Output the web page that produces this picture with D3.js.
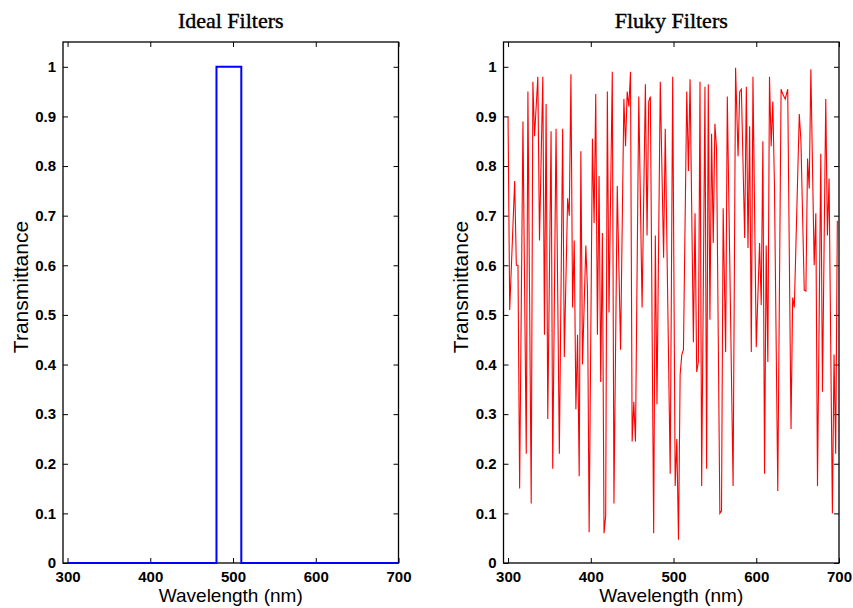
<!DOCTYPE html>
<html>
<head>
<meta charset="utf-8">
<script src="https://cdn.jsdelivr.net/npm/d3@7"></script>
<style>
    body { margin: 0; background: #fff; }
    svg { display: block; }
    .tick text { font-family: "Liberation Sans", Arial, sans-serif; font-size: 15px; font-weight: bold; fill: #000; }
    .tick line { stroke: #000; stroke-width: 1; }
    .axis-label { font-family: "Liberation Sans", Arial, sans-serif; fill: #000; }
    .title { font-family: "Liberation Serif", "Times New Roman", serif; font-size: 22px; fill: #000; stroke: #000; stroke-width: 0.4; }
</style>
</head>
<body>
<svg id="chart" width="853" height="608"></svg>
<script>
// tick values
const xTicks = [300, 400, 500, 600, 700];
const yTicks = [0, 0.1, 0.2, 0.3, 0.4, 0.5, 0.6, 0.7, 0.8, 0.9, 1];

// ideal band-pass filter (480-510 nm)
const idealWavelength = [300, 480, 480, 510, 510, 700];
const idealT = [0, 0, 1, 1, 0, 0];

// fluky filter
const flukyWavelength = [
    300, 302, 308, 310, 312, 314, 318, 322, 324, 328, 330, 332, 336, 338, 342, 344, 346, 348, 352, 354,
    358, 362, 366, 368, 372, 374, 376, 378, 380, 382, 384, 386, 388, 390, 394, 396, 398, 402, 404, 406,
    408, 410, 412, 414, 416, 418, 420, 422, 426, 428, 432, 436, 440, 442, 444, 446, 448, 450, 452, 454,
    458, 462, 466, 468, 470, 472, 476, 478, 480, 484, 488, 490, 496, 499, 502, 504, 506, 508, 510, 512,
    516, 518, 520, 524, 526, 528, 530, 532, 534, 538, 540, 542, 544, 546, 548, 550, 552, 556, 558, 560,
    563, 565, 572, 575, 578, 580, 582, 586, 588, 590, 592, 594, 596, 600, 604, 606, 608, 610, 612, 614,
    616, 618, 620, 622, 626, 630, 632, 635, 638, 642, 644, 646, 652, 654, 658, 660, 662, 664, 666, 670,
    672, 674, 678, 680, 684, 686, 688, 692, 694, 696, 698
];
const flukyT = [
    0.90, 0.51, 0.77, 0.60, 0.60, 0.15, 0.89, 0.22, 0.95, 0.12, 0.97, 0.86, 0.98, 0.65, 0.98, 0.46, 0.925, 0.29, 0.87, 0.19,
    0.875, 0.22, 0.875, 0.415, 0.735, 0.70, 0.985, 0.515, 0.65, 0.31, 0.46, 0.175, 0.83, 0.40, 0.64, 0.55, 0.062, 0.855, 0.685, 0.945,
    0.46, 0.78, 0.365, 0.665, 0.06, 0.095, 0.95, 0.505, 0.99, 0.12, 0.76, 0.43, 0.935, 0.84, 0.95, 0.92, 0.99, 0.245, 0.325, 0.245,
    0.94, 0.515, 0.965, 0.66, 0.93, 0.94, 0.06, 0.66, 0.32, 0.97, 0.615, 0.875, 0.18, 0.98, 0.155, 0.25, 0.047, 0.38, 0.42, 0.43,
    0.95, 0.79, 0.975, 0.445, 0.705, 0.385, 0.405, 0.97, 0.155, 0.96, 0.19, 0.965, 0.49, 0.865, 0.645, 0.885, 0.835, 0.10, 0.105, 0.715,
    0.425, 0.94, 0.155, 0.998, 0.82, 0.95, 0.955, 0.655, 0.96, 0.635, 0.88, 0.425, 0.98, 0.435, 0.645, 0.52, 0.85, 0.18, 0.64, 0.405,
    0.98, 0.84, 0.93, 0.76, 0.145, 0.955, 0.945, 0.935, 0.955, 0.27, 0.535, 0.515, 0.905, 0.85, 0.55, 0.548, 0.815, 0.755, 0.995, 0.60,
    0.705, 0.155, 0.825, 0.345, 0.935, 0.66, 0.775, 0.10, 0.42, 0.22, 0.69
];

class FilterPanel {
    constructor(svg, opts) {
        this.svg = svg;
        this.opts = opts;

        this.BOX = {top: 42, bottom: 563, left: opts.left, right: opts.right};

        this.xScale = d3.scaleLinear()
            .domain([294.5, 700])
            .range([this.BOX.left, this.BOX.right]);

        this.yScale = d3.scaleLinear()
            .domain([0, 1.05])
            .range([this.BOX.bottom, this.BOX.top]);

        this.g = svg.append('g');
        this.drawChart();
    }

    drawChart() {
        this.drawAxis();
        this.drawLine();
        this.drawLabels();
    }

    drawAxis() {
        let b = this.BOX;

        // box
        this.g.append('rect')
            .attr('x', b.left)
            .attr('y', b.top)
            .attr('width', b.right - b.left)
            .attr('height', b.bottom - b.top)
            .attr('fill', 'none')
            .attr('stroke', '#000')
            .attr('stroke-width', 1.3);

        // ticks point inward, on all four sides
        let xAxis = d3.axisBottom(this.xScale)
            .tickValues(xTicks)
            .tickSizeInner(-5)
            .tickSizeOuter(0)
            .tickPadding(8);
        this.g.append('g')
            .attr('transform', `translate(0, ${b.bottom})`)
            .call(xAxis)
            .call(g => g.select('.domain').remove());

        this.g.append('g')
            .attr('transform', `translate(0, ${b.top})`)
            .call(d3.axisTop(this.xScale).tickValues(xTicks).tickSizeInner(-5).tickSizeOuter(0).tickFormat(''))
            .call(g => g.select('.domain').remove());

        let yAxis = d3.axisLeft(this.yScale)
            .tickValues(yTicks)
            .tickSizeInner(-5)
            .tickSizeOuter(0)
            .tickPadding(7)
            .tickFormat(d3.format('~g'));
        this.g.append('g')
            .attr('transform', `translate(${b.left}, 0)`)
            .call(yAxis)
            .call(g => g.select('.domain').remove());

        this.g.append('g')
            .attr('transform', `translate(${b.right}, 0)`)
            .call(d3.axisRight(this.yScale).tickValues(yTicks).tickSizeInner(-5).tickSizeOuter(0).tickFormat(''))
            .call(g => g.select('.domain').remove());

        this.g.selectAll('.tick text').attr('font-family', null).attr('font-size', null);
    }

    drawLine() {
        let pts = d3.zip(this.opts.wavelength, this.opts.values);
        let line = d3.line()
            .x(d => this.xScale(d[0]))
            .y(d => this.yScale(d[1]));

        this.g.append('path')
            .datum(pts)
            .attr('d', line)
            .attr('fill', 'none')
            .attr('stroke', this.opts.color)
            .attr('stroke-width', this.opts.lineWidth)
            .attr('stroke-linejoin', 'miter');
    }

    drawLabels() {
        let b = this.BOX;
        let cx = (b.left + b.right) / 2;

        this.g.append('text')
            .attr('class', 'title')
            .attr('x', cx)
            .attr('y', 28)
            .attr('text-anchor', 'middle')
            .text(this.opts.title);

        this.g.append('text')
            .attr('class', 'axis-label')
            .attr('x', cx)
            .attr('y', 602)
            .attr('text-anchor', 'middle')
            .style('font-size', '19px')
            .text('Wavelength (nm)');

        this.g.append('text')
            .attr('class', 'axis-label')
            .attr('transform', `translate(${b.left - 35.5}, 287) rotate(-90)`)
            .attr('text-anchor', 'middle')
            .style('font-size', '21px')
            .text('Transmittance');
    }
}

const svg = d3.select('#chart');

new FilterPanel(svg, {
    title: 'Ideal Filters',
    left: 63, right: 398.5,
    wavelength: idealWavelength, values: idealT,
    color: '#0000ff', lineWidth: 2
});

new FilterPanel(svg, {
    title: 'Fluky Filters',
    left: 503.5, right: 839,
    wavelength: flukyWavelength, values: flukyT,
    color: '#ff0000', lineWidth: 1.1
});
</script>
</body>
</html>
